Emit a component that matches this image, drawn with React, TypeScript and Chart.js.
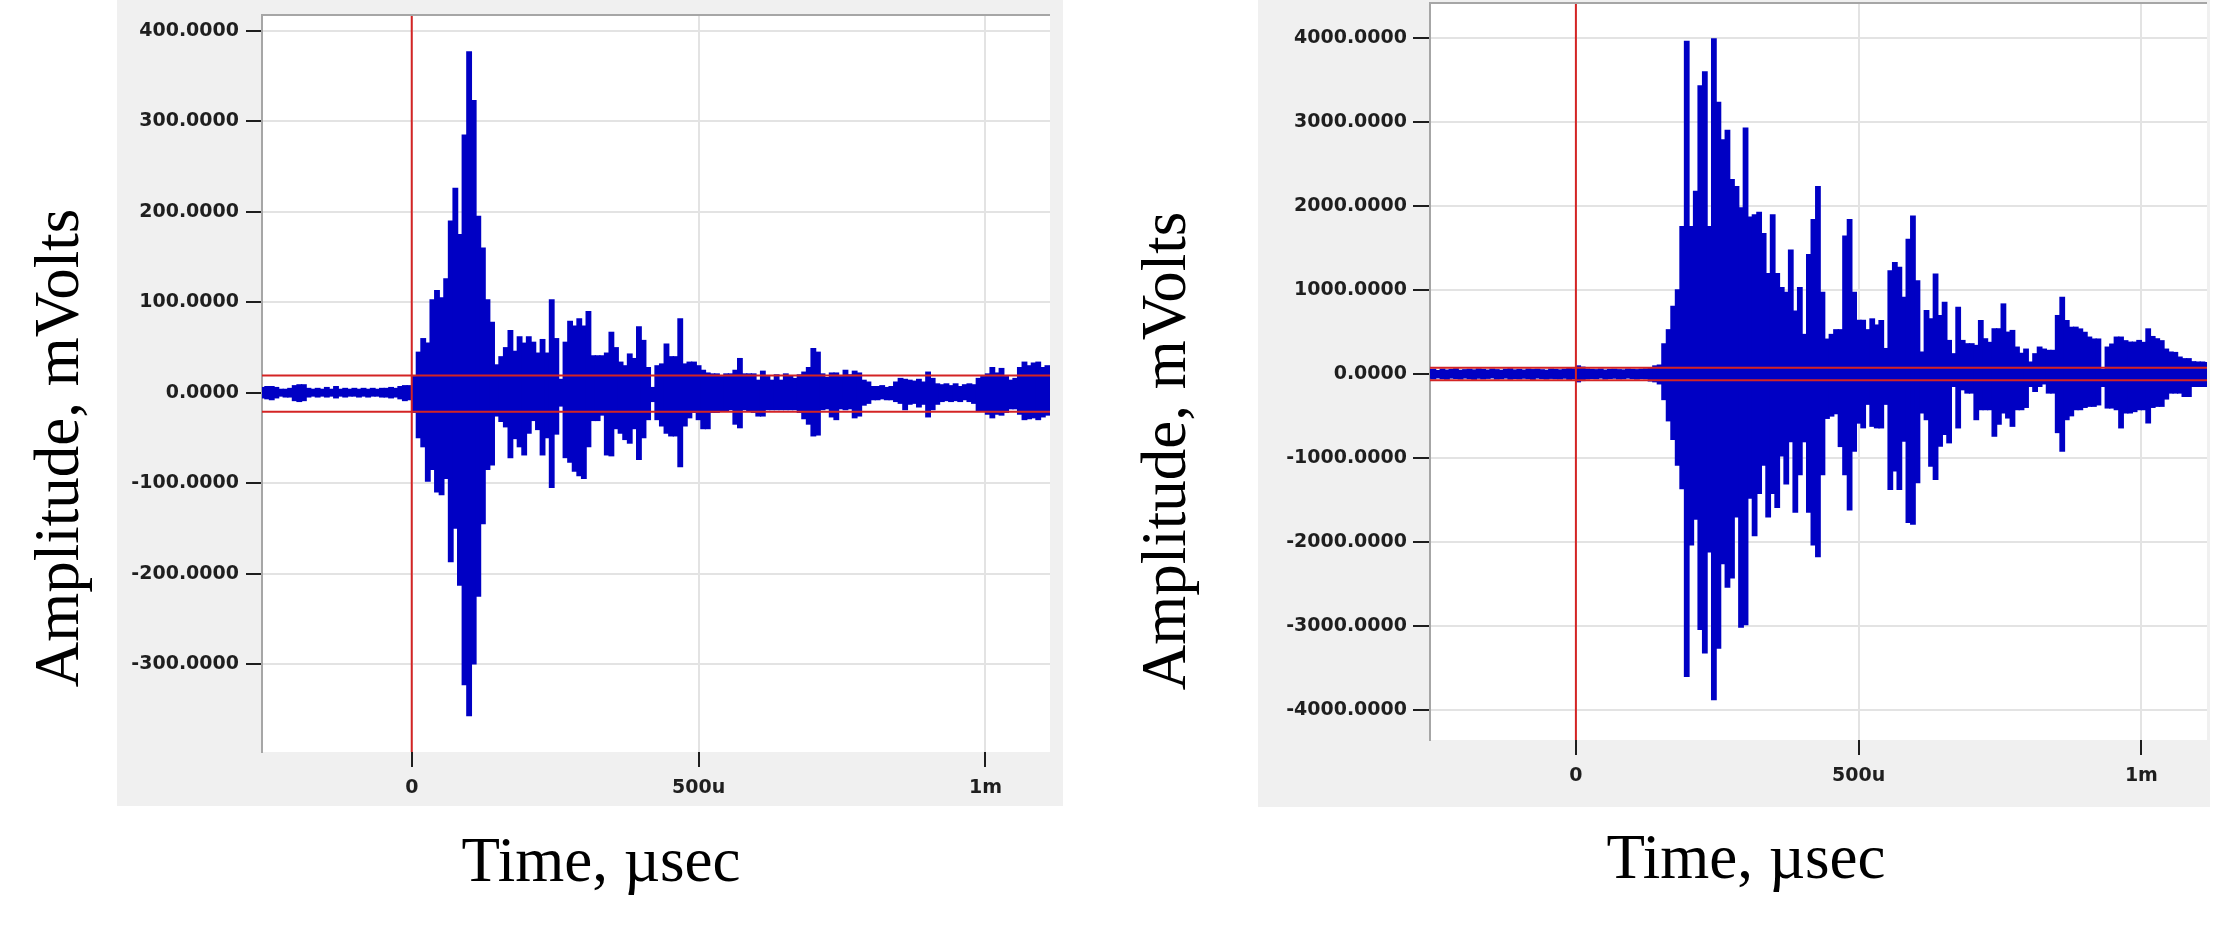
import React, { useEffect, useRef } from "react";
import { Chart, registerables } from "chart.js";

Chart.register(...registerables);

// ---------------- data ----------------
// waveform envelope per 8 µs bin, starting at -264 µs: peak (max) and trough (min) of each bin
const STEP_US = 8;
const TRACE_START_US = -264;

const xTickValues = [0, 500, 1000];
const xTickLabels = ["0", "500u", "1m"];

const leftYTicks = [400, 300, 200, 100, 0, -100, -200, -300];
const rightYTicks = [4000, 3000, 2000, 1000, 0, -1000, -2000, -3000, -4000];

const triggerTimeUs = 0;
const leftThresholds = [19, -21];
const rightThresholds = [75, -75];

const yTitle = "Amplitude, mVolts";
const xTitle = "Time, µsec";

// left record (mV)
const leftMax = [
  // pre-trigger -264 .. -8
  6, 7, 7, 6, 4, 4, 5, 8, 9, 9,
  5, 4, 5, 4, 6, 4, 7, 4, 5, 4,
  5, 4, 5, 4, 5, 4, 5, 5, 6, 5,
  7, 8, 8,
  // 0 .. 1112
  18, 45, 60, 55, 103, 113, 105, 126, 190, 226,
  175, 285, 377, 323, 195, 160, 103, 78, 31, 40,
  50, 69, 46, 62, 55, 62, 56, 44, 59, 44,
  103, 60, 15, 56, 79, 74, 82, 74, 90, 41,
  41, 41, 44, 67, 50, 34, 30, 43, 38, 73,
  58, 28, 6, 30, 32, 54, 40, 40, 82, 32,
  34, 34, 30, 25, 22, 21, 21, 18, 21, 21,
  25, 38, 21, 21, 21, 14, 24, 18, 14, 20,
  14, 21, 19, 16, 20, 23, 28, 49, 45, 21,
  17, 22, 22, 18, 25, 20, 24, 22, 14, 12,
  7, 7, 8, 6, 7, 12, 16, 15, 14, 13,
  15, 12, 23, 16, 10, 9, 10, 8, 10, 7,
  9, 10, 9, 16, 18, 21, 28, 22, 27, 18,
  14, 16, 28, 34, 30, 33, 34, 28, 30, 26,
];
const leftMin = [
  -6, -7, -8, -6, -4, -5, -5, -9, -10, -9,
  -5, -4, -5, -4, -5, -4, -6, -4, -5, -4,
  -4, -5, -4, -5, -4, -4, -5, -5, -6, -5,
  -7, -9, -8,
  -22, -50, -60, -98, -85, -110, -113, -95, -187, -150,
  -213, -323, -357, -300, -225, -145, -85, -80, -26, -32,
  -38, -72, -51, -60, -69, -45, -31, -41, -69, -50,
  -105, -46, -15, -72, -77, -87, -92, -95, -60, -31,
  -31, -25, -69, -70, -40, -45, -52, -56, -40, -74,
  -50, -30, -10, -30, -37, -45, -48, -48, -82, -37,
  -28, -22, -30, -40, -40, -22, -22, -20, -20, -19,
  -35, -39, -19, -20, -22, -26, -26, -19, -19, -19,
  -19, -19, -19, -19, -22, -29, -35, -48, -47, -19,
  -18, -27, -30, -18, -19, -18, -28, -26, -14, -12,
  -8, -8, -7, -8, -8, -10, -12, -19, -13, -12,
  -16, -13, -27, -19, -13, -10, -9, -10, -9, -10,
  -8, -10, -12, -20, -20, -24, -28, -24, -25, -22,
  -18, -18, -24, -30, -29, -28, -30, -27, -25, -24,
];

// right record (mV)
const rightMax = [
  55, 60, 45, 62, 50, 58, 66, 48, 55, 60,
  52, 64, 58, 50, 62, 55, 48, 60, 66, 52,
  58, 50, 62, 56, 60, 54, 48, 62, 58, 52,
  60, 70, 65,
  100, 85, 62, 58, 55, 62, 50, 58, 60, 55,
  52, 62, 58, 55, 60, 64, 80, 100, 110, 363,
  531, 810, 1006, 1760, 3967, 1760, 2179, 3436, 3604, 1760,
  3995, 3240, 2793, 2905, 2319, 2235, 1983, 2933, 1872, 1900,
  1928, 1676, 1201, 1900, 1201, 1034, 978, 1480, 754, 1034,
  475, 1425, 1844, 2235, 978, 419, 475, 531, 531, 1648,
  1844, 978, 643, 643, 531, 660, 587, 640, 307, 1233,
  1332, 1273, 917, 1609, 1886, 1115, 265, 759, 660, 1194,
  700, 858, 403, 245, 798, 403, 364, 364, 344, 640,
  423, 380, 542, 542, 838, 502, 522, 324, 250, 300,
  146, 245, 324, 300, 285, 285, 700, 917, 640, 560,
  561, 540, 500, 443, 420, 420, 60, 324, 360, 443,
  443, 400, 383, 383, 403, 380, 541, 450, 423, 400,
  300, 265, 260, 205, 186, 186, 150, 146, 146, 140,
];
const rightMin = [
  -52, -60, -48, -58, -64, -50, -55, -62, -50, -58,
  -66, -52, -60, -54, -48, -62, -58, -50, -64, -55,
  -60, -52, -58, -66, -50, -56, -62, -54, -58, -60,
  -52, -66, -60,
  -95, -80, -60, -55, -58, -50, -62, -55, -52, -60,
  -58, -50, -56, -62, -55, -58, -85, -95, -120, -307,
  -560, -782, -1089, -1369, -3604, -2039, -1732, -3045, -3324, -2123,
  -3883, -3268, -2263, -2542, -2430, -1704, -3017, -2989, -1481, -1927,
  -1425, -1089, -1704, -1425, -1592, -978, -1313, -809, -1648, -1201,
  -809, -1648, -2039, -2179, -1201, -531, -503, -475, -866, -1201,
  -1620, -922, -587, -643, -363, -625, -643, -644, -363, -1376,
  -1158, -1376, -802, -1771, -1791, -1297, -466, -546, -1099, -1257,
  -862, -723, -822, -150, -644, -190, -229, -229, -546, -427,
  -427, -427, -743, -600, -466, -526, -625, -427, -427, -400,
  -150, -210, -150, -120, -229, -229, -700, -921, -546, -500,
  -427, -427, -400, -387, -387, -370, -150, -407, -407, -427,
  -644, -466, -466, -450, -427, -427, -585, -400, -387, -387,
  -300, -229, -229, -229, -269, -269, -150, -150, -150, -150,
];

// ---------------- styling / layout ----------------
const CANVAS_W = 1116;
const CANVAS_H = 934;
const X_AXIS_H = 60;
const BLUE = "#0000c4";
const RED = "#d42424";
const PANEL_GRAY = "#f0f0f0";
const GRID = "#e3e3e3";
const FRAME = "#a6a6a6";
const TICK_MARK = "#1e1e1e";
const TICK_TEXT = "#1f1f1f";
const TICK_FONT = { family: '"DejaVu Sans"', size: 19, weight: "bold" as const };
const TITLE_FONT = '63px "Liberation Serif"';

type Box = { left: number; top: number; right: number; bottom: number };
type PanelSpec = {
  canvasLeft: number;
  area: Box;
  panel: Box;
  xRange: [number, number];
  yRange: [number, number];
  yTicks: number[];
  thresholds: number[];
  maxs: number[];
  mins: number[];
  yTickLength: number;
  yTickPadding: number;
  yTitleBaselineX: number;
  yTitleCenterY: number;
  xTitleCenterX: number;
  xTitleBaselineY: number;
};

const leftSpec: PanelSpec = {
  canvasLeft: 0,
  area: { left: 262, top: 15, right: 1050, bottom: 752 },
  panel: { left: 117, top: 0, right: 1063, bottom: 806 },
  xRange: [-261, 1112.5],
  yRange: [-397, 417.3],
  yTicks: leftYTicks,
  thresholds: leftThresholds,
  maxs: leftMax,
  mins: leftMin,
  yTickLength: 16,
  yTickPadding: 7,
  yTitleBaselineX: 78,
  yTitleCenterY: 448,
  xTitleCenterX: 601,
  xTitleBaselineY: 881,
};

const rightSpec: PanelSpec = {
  canvasLeft: 1116,
  area: { left: 314, top: 3, right: 1091, bottom: 740 },
  panel: { left: 142, top: 0, right: 1094, bottom: 807 },
  xRange: [-258, 1116],
  yRange: [-4359, 4420],
  yTicks: rightYTicks,
  thresholds: rightThresholds,
  maxs: rightMax,
  mins: rightMin,
  yTickLength: 17,
  yTickPadding: 6,
  yTitleBaselineX: 69,
  yTitleCenterY: 451,
  xTitleCenterX: 630,
  xTitleBaselineY: 878,
};

function ChartPanel({ spec }: { spec: PanelSpec }) {
  const ref = useRef<HTMLCanvasElement>(null);

  useEffect(() => {
    const canvas = ref.current;
    if (!canvas) return;

    const [xMin, xMax] = spec.xRange;
    const [yMin, yMax] = spec.yRange;

    // one floating bar per bin: [trough, peak]
    const bins: { x: number; y: [number, number] }[] = spec.maxs.map((mx, i) => ({
      x: TRACE_START_US + i * STEP_US + STEP_US / 2,
      y: [spec.mins[i], mx],
    }));
    const pxPerUs = (spec.area.right - spec.area.left) / (xMax - xMin);
    const binPx = pxPerUs * STEP_US + 0.6;

    const decor = {
      id: "panelDecor",
      beforeDraw(chart: any) {
        const ctx = chart.ctx as CanvasRenderingContext2D;
        const p = spec.panel;
        const ca = chart.chartArea;
        ctx.save();
        ctx.fillStyle = PANEL_GRAY;
        ctx.fillRect(p.left, p.top, p.right - p.left, p.bottom - p.top);
        ctx.fillStyle = "#ffffff";
        ctx.fillRect(ca.left, ca.top, ca.right - ca.left, ca.bottom - ca.top);
        ctx.restore();
      },
      afterDraw(chart: any) {
        const ctx = chart.ctx as CanvasRenderingContext2D;
        const ca = chart.chartArea;
        ctx.save();
        ctx.strokeStyle = FRAME;
        ctx.lineWidth = 2;
        ctx.beginPath();
        ctx.moveTo(ca.left, ca.top);
        ctx.lineTo(ca.right, ca.top);
        ctx.stroke();

        ctx.fillStyle = "#000000";
        ctx.font = TITLE_FONT;
        ctx.textAlign = "center";
        ctx.textBaseline = "alphabetic";
        ctx.fillText(xTitle, spec.xTitleCenterX, spec.xTitleBaselineY);
        ctx.translate(spec.yTitleBaselineX, spec.yTitleCenterY);
        ctx.rotate(-Math.PI / 2);
        ctx.fillText(yTitle, 0, 0);
        ctx.restore();
      },
    };

    const redLine = (pts: { x: number; y: number }[]) => ({
      type: "line",
      data: pts,
      borderColor: RED,
      borderWidth: 2,
      pointRadius: 0,
      tension: 0,
      fill: false,
      order: 0,
    });

    const chart = new Chart(canvas, {
      type: "bar",
      data: {
        datasets: [
          redLine([
            { x: triggerTimeUs, y: yMin },
            { x: triggerTimeUs, y: yMax },
          ]),
          redLine([
            { x: xMin, y: spec.thresholds[0] },
            { x: xMax, y: spec.thresholds[0] },
          ]),
          redLine([
            { x: xMin, y: spec.thresholds[1] },
            { x: xMax, y: spec.thresholds[1] },
          ]),
          {
            type: "bar",
            data: bins,
            backgroundColor: BLUE,
            borderWidth: 0,
            barThickness: binPx,
            grouped: false,
            order: 1,
          },
        ],
      } as any,
      options: {
        responsive: false,
        animation: false,
        devicePixelRatio: 1,
        events: [],
        layout: {
          padding: {
            left: 0,
            top: spec.area.top,
            right: CANVAS_W - spec.area.right,
            bottom: CANVAS_H - spec.area.bottom - X_AXIS_H,
          },
        },
        plugins: {
          legend: { display: false },
          tooltip: { enabled: false },
          title: { display: false },
        },
        scales: {
          x: {
            type: "linear",
            min: xMin,
            max: xMax,
            offset: false,
            afterBuildTicks: (s: any) => {
              s.ticks = xTickValues.map((v) => ({ value: v }));
            },
            afterFit: (s: any) => {
              s.height = X_AXIS_H;
              s.paddingLeft = 0;
              s.paddingRight = 0;
            },
            ticks: {
              autoSkip: false,
              maxRotation: 0,
              minRotation: 0,
              padding: 10,
              color: TICK_TEXT,
              font: TICK_FONT,
              callback: (v: any) => {
                const i = xTickValues.indexOf(Number(v));
                return i >= 0 ? xTickLabels[i] : "";
              },
            },
            grid: {
              offset: false,
              color: GRID,
              lineWidth: 2,
              tickColor: TICK_MARK,
              tickWidth: 2,
              tickLength: 15,
            },
            border: { display: false },
          },
          y: {
            type: "linear",
            min: yMin,
            max: yMax,
            afterBuildTicks: (s: any) => {
              s.ticks = spec.yTicks.map((v) => ({ value: v }));
            },
            afterFit: (s: any) => {
              s.width = spec.area.left;
              s.paddingTop = 0;
              s.paddingBottom = 0;
            },
            ticks: {
              autoSkip: false,
              padding: spec.yTickPadding,
              color: TICK_TEXT,
              font: TICK_FONT,
              callback: (v: any) => Number(v).toFixed(4),
            },
            grid: {
              color: GRID,
              lineWidth: 2,
              tickColor: TICK_MARK,
              tickWidth: 2,
              tickLength: spec.yTickLength,
            },
            border: { display: true, color: FRAME, width: 2 },
          },
        },
      } as any,
      plugins: [decor],
    });

    return () => chart.destroy();
  }, [spec]);

  return (
    <canvas
      ref={ref}
      width={CANVAS_W}
      height={CANVAS_H}
      style={{
        position: "absolute",
        left: spec.canvasLeft,
        top: 0,
        width: CANVAS_W,
        height: CANVAS_H,
        display: "block",
      }}
    />
  );
}

export default function App() {
  return (
    <div
      style={{
        position: "absolute",
        left: 0,
        top: 0,
        width: 2232,
        height: 934,
        background: "#ffffff",
        overflow: "hidden",
      }}
    >
      <ChartPanel spec={leftSpec} />
      <ChartPanel spec={rightSpec} />
    </div>
  );
}
